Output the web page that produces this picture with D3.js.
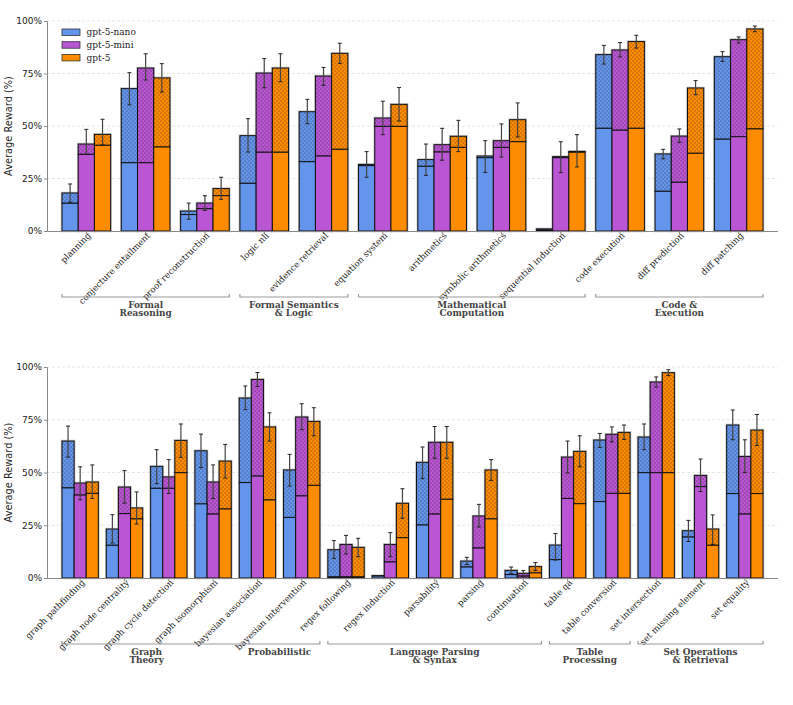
<!DOCTYPE html>
<html>
<head>
<meta charset="utf-8">
<script src="https://cdn.jsdelivr.net/npm/d3@7"></script>
<style>
  body { margin: 0; background: #fff; }
  svg { display: block; }
  .tick text { font-family: "DejaVu Sans", sans-serif; font-size: 9px; fill: #222; }
  .cat .tick text { font-family: "DejaVu Serif", serif; font-size: 8.7px; fill: #222; }
  .grp { font-family: "DejaVu Serif", serif; font-size: 8.9px; font-weight: bold; fill: #444; }
</style>
</head>
<body>
<div id="chart"></div>
<script>
const models = ['gpt-5-nano', 'gpt-5-mini', 'gpt-5'];
const colors = ['#6495ED', '#BA55D3', '#FF8C00'];

// ---- top panel ----
const topCats = ['planning', 'conjecture entailment', 'proof reconstruction', 'logic nli', 'evidence retrieval',
  'equation system', 'arithmetics', 'symbolic arithmetics', 'sequential induction',
  'code execution', 'diff prediction', 'diff patching'];
// [nano, mini, gpt5] for each category
const topTotal = [[18.1, 41.4, 46.0], [67.8, 77.6, 72.9], [9.5, 13.3, 20.2], [45.4, 75.2, 77.6], [56.8, 73.8, 84.6],
  [31.7, 53.8, 60.3], [34.0, 41.1, 45.1], [35.7, 43.0, 53.0], [1.0, 35.4, 37.9],
  [84.0, 86.2, 90.2], [36.7, 45.2, 68.1], [83.0, 91.1, 96.2]];
const topBase = [[13.2, 36.5, 40.8], [32.5, 32.5, 40.0], [7.8, 10.6, 16.8], [22.7, 37.5, 37.5], [33.0, 35.7, 38.9],
  [31.1, 49.8, 49.8], [30.8, 37.6, 39.8], [34.9, 39.8, 42.5], [0.4, 34.9, 37.5],
  [48.9, 48.0, 48.9], [18.9, 23.2, 37.0], [43.7, 44.9, 48.6]];
const topErrLo = [[13.7, 36.5, 41.0], [60.1, 71.9, 66.2], [5.6, 9.8, 15.1], [37.6, 68.2, 71.1], [51.1, 69.4, 79.8],
  [25.6, 45.9, 52.4], [26.5, 33.7, 37.8], [27.9, 35.2, 44.8], [null, 27.8, 30.5],
  [79.5, 82.9, 87.1], [34.4, 42.2, 64.9], [80.8, 89.5, 94.9]];
const topErrHi = [[22.4, 48.4, 53.2], [75.4, 84.4, 79.7], [13.3, 16.8, 25.6], [53.5, 82.1, 84.4], [62.7, 77.9, 89.4],
  [37.8, 61.8, 68.3], [41.4, 48.9, 52.7], [43.0, 51.0, 61.0], [null, 42.5, 45.9],
  [88.4, 89.7, 93.2], [38.9, 48.6, 71.6], [85.4, 92.4, 97.6]];
const topGroups = [
  { name: ['Formal', 'Reasoning'], from: 0, to: 2 },
  { name: ['Formal Semantics', '& Logic'], from: 3, to: 4 },
  { name: ['Mathematical', 'Computation'], from: 5, to: 8 },
  { name: ['Code &', 'Execution'], from: 9, to: 11 }
];
const topBrackets = [[0, 2], [3, 4], [5, 8], [9, 11]];

// ---- bottom panel ----
const botCats = ['graph pathfinding', 'graph node centrality', 'graph cycle detection', 'graph isomorphism',
  'bayesian association', 'bayesian intervention', 'regex following', 'regex induction', 'parsability',
  'parsing', 'continuation', 'table qa', 'table conversion', 'set intersection', 'set missing element', 'set equality'];
const botTotal = [[64.9, 45.0, 45.5], [23.2, 43.1, 33.2], [52.9, 47.9, 65.2], [60.3, 45.5, 55.4],
  [85.3, 94.1, 71.6], [51.2, 76.3, 74.2], [13.4, 15.9, 14.5], [1.1, 15.9, 35.4], [54.8, 64.3, 64.3],
  [8.0, 29.4, 51.2], [3.6, 2.2, 5.4], [15.6, 57.3, 60.0], [65.4, 68.1, 69.0], [66.8, 92.9, 97.3],
  [22.4, 48.6, 23.2], [72.5, 57.6, 70.1]];
const botBase = [[42.7, 39.3, 40.1], [15.5, 30.5, 28.0], [42.5, 42.5, 49.9], [35.1, 30.3, 32.7],
  [45.2, 48.3, 37.0], [28.7, 38.9, 43.9], [0.5, 0.5, 0.5], [0.9, 7.6, 19.1], [25.1, 30.3, 37.3],
  [5.2, 14.2, 28.0], [1.6, 0.9, 2.4], [8.7, 37.7, 35.2], [36.2, 40.1, 40.1], [49.9, 49.9, 49.9],
  [19.4, 43.3, 15.5], [40.0, 30.3, 40.0]];
const botErrLo = [[57.3, 37.1, 37.7], [16.6, 35.5, 25.6], [44.7, 40.1, 57.2], [52.3, 37.7, 47.4],
  [79.8, 90.8, 64.9], [43.6, 70.3, 67.4], [9.3, 11.4, 10.1], [null, 10.1, 28.3], [47.1, 56.7, 56.7],
  [6.4, 24.2, 46.3], [2.0, 0.8, 3.6], [8.5, 49.8, 52.7], [61.9, 64.5, 65.7], [60.8, 90.5, 95.9],
  [17.3, 41.0, 15.9], [65.5, 50.0, 62.8]];
const botErrHi = [[72.0, 52.7, 53.6], [30.0, 50.9, 40.8], [60.8, 56.1, 73.0], [68.2, 53.6, 63.3],
  [91.0, 97.4, 78.3], [58.6, 82.6, 80.7], [17.7, 20.2, 18.8], [null, 21.5, 42.3], [62.1, 71.8, 71.8],
  [9.8, 34.9, 56.1], [5.2, 3.5, 7.3], [21.1, 64.9, 67.4], [68.5, 71.6, 72.5], [73.0, 95.3, 98.7],
  [27.3, 56.4, 29.9], [79.6, 65.5, 77.5]];
const botGroups = [
  { name: ['Graph', 'Theory'], from: 0, to: 3 },
  { name: ['Probabilistic'], from: 4, to: 5 },
  { name: ['Language Parsing', '& Syntax'], from: 6, to: 10 },
  { name: ['Table', 'Processing'], from: 11, to: 12 },
  { name: ['Set Operations', '& Retrieval'], from: 13, to: 15 }
];
const botBrackets = [[0, 5], [6, 10], [11, 12], [13, 15]];

const width = 793, height = 705;
const svg = d3.select('#chart').append('svg')
  .attr('width', width)
  .attr('height', height);

// dotted hatch patterns, one per model colour
const defs = svg.append('defs');
colors.forEach(function(c, i) {
  const p = defs.append('pattern')
    .attr('id', 'dots' + i)
    .attr('patternUnits', 'userSpaceOnUse')
    .attr('width', 4).attr('height', 4);
  p.append('rect').attr('width', 4).attr('height', 4).attr('fill', c);
  p.append('circle').attr('cx', 1).attr('cy', 1).attr('r', 0.5).attr('fill', '#222');
  p.append('circle').attr('cx', 3).attr('cy', 3).attr('r', 0.5).attr('fill', '#222');
});

function drawPanel(opts) {
  const { cats, total, base, errLo, errHi, groups, brackets, y0, y1, legend } = opts;
  const left = 47, right = 778;

  const x = d3.scaleBand().domain(cats).range([left + 15, right - 15]).paddingInner(0.18).paddingOuter(0);
  const xm = d3.scaleBand().domain(d3.range(3)).range([0, x.bandwidth()]);
  const y = d3.scaleLinear().domain([0, 1]).range([y0, y1]);

  const g = svg.append('g');

  // gridlines
  g.append('g').selectAll('line').data([0.25, 0.5, 0.75, 1]).join('line')
    .attr('x1', left).attr('x2', right)
    .attr('y1', d => y(d)).attr('y2', d => y(d))
    .attr('stroke', '#ddd').attr('stroke-width', 0.7).attr('stroke-dasharray', '3,2');

  // bars
  const bars = [];
  cats.forEach(function(c, ci) {
    for (let m = 0; m < 3; m++) {
      bars.push({ c: c, m: m, total: total[ci][m] / 100, base: base[ci][m] / 100,
        lo: errLo[ci][m], hi: errHi[ci][m] });
    }
  });
  const bx = d => x(d.c) + xm(d.m);
  const bw = xm.bandwidth();

  // soft grey halo round each bar
  g.append('g').selectAll('rect').data(bars).join('rect')
    .attr('x', bx).attr('width', bw)
    .attr('y', d => y(d.total)).attr('height', d => y0 - y(d.total))
    .attr('fill', 'none').attr('stroke', '#999').attr('stroke-opacity', 0.6).attr('stroke-width', 2.5);

  // dotted upper part
  g.append('g').selectAll('rect').data(bars.filter(d => d.total > d.base)).join('rect')
    .attr('x', bx).attr('width', bw)
    .attr('y', d => y(d.total)).attr('height', d => y(d.base) - y(d.total))
    .attr('fill', d => 'url(#dots' + d.m + ')')
    .attr('stroke', '#111').attr('stroke-width', 1);

  // solid lower part
  g.append('g').selectAll('rect').data(bars).join('rect')
    .attr('x', bx).attr('width', bw)
    .attr('y', d => y(d.base)).attr('height', d => y0 - y(d.base))
    .attr('fill', d => colors[d.m])
    .attr('stroke', '#111').attr('stroke-width', 1);

  // error bars
  const eb = g.append('g').selectAll('g').data(bars.filter(d => d.lo != null)).join('g')
    .attr('transform', d => 'translate(' + (bx(d) + bw / 2) + ',0)');
  eb.append('line')
    .attr('y1', d => y(d.lo / 100)).attr('y2', d => y(d.hi / 100))
    .attr('stroke', '#444').attr('stroke-width', 1.2);
  eb.selectAll('line.cap').data(d => [d.lo, d.hi]).join('line')
    .attr('class', 'cap')
    .attr('x1', -2).attr('x2', 2)
    .attr('y1', v => y(v / 100)).attr('y2', v => y(v / 100))
    .attr('stroke', '#222').attr('stroke-width', 1);

  // y axis
  const yAxis = g.append('g')
    .attr('transform', 'translate(' + left + ',0)')
    .call(d3.axisLeft(y).tickValues([0, 0.25, 0.5, 0.75, 1]).tickFormat(d3.format('.0%')).tickSize(3).tickPadding(2));
  yAxis.select('.domain').attr('stroke', '#888');
  yAxis.selectAll('.tick line').attr('stroke', '#888');

  g.append('text')
    .attr('transform', 'translate(12,' + ((y0 + y1) / 2) + ') rotate(-90)')
    .attr('text-anchor', 'middle')
    .style('font-family', '"DejaVu Sans", sans-serif')
    .style('font-size', '9.8px')
    .attr('fill', '#222')
    .text('Average Reward (%)');

  // x axis
  const xAxis = g.append('g')
    .attr('class', 'cat')
    .attr('transform', 'translate(0,' + y0 + ')')
    .call(d3.axisBottom(x).tickSize(3).tickSizeOuter(0));
  xAxis.select('.domain').attr('d', 'M' + left + ',0.5H' + right).attr('stroke', '#888');
  xAxis.selectAll('.tick line').attr('stroke', '#888');
  xAxis.selectAll('.tick text')
    .attr('text-anchor', 'end')
    .attr('dy', '0.35em')
    .attr('transform', 'translate(3,3) rotate(-45)')
    .attr('x', 0).attr('y', 0);

  // group brackets
  const by = y0 + 66;
  brackets.forEach(function(b) {
    const xa = x(cats[b[0]]), xb = x(cats[b[1]]) + x.bandwidth();
    g.append('path')
      .attr('d', 'M' + xa + ',' + (by - 3) + 'V' + by + 'H' + xb + 'V' + (by - 3))
      .attr('fill', 'none').attr('stroke', '#999').attr('stroke-width', 1.2);
  });
  groups.forEach(function(gr) {
    const cx = (x(cats[gr.from]) + x(cats[gr.to]) + x.bandwidth()) / 2;
    const t = g.append('text').attr('class', 'grp').attr('text-anchor', 'middle')
      .attr('x', cx).attr('y', by + 10.5);
    gr.name.forEach(function(line, i) {
      t.append('tspan').attr('x', cx).attr('dy', i === 0 ? 0 : '0.9em').text(line);
    });
  });

  if (legend) {
    const lg = g.append('g').attr('transform', 'translate(62,' + (y1 + 8) + ')');
    models.forEach(function(m, i) {
      const r = lg.append('g').attr('transform', 'translate(0,' + (i * 12.7) + ')');
      r.append('rect').attr('x', 0).attr('y', 0).attr('width', 18).attr('height', 6.5)
        .attr('fill', colors[i]).attr('stroke', '#333').attr('stroke-width', 0.8);
      r.append('text').attr('x', 24.5).attr('y', 3.3).attr('dy', '0.35em')
        .style('font-family', '"DejaVu Serif", serif').style('font-size', '9px')
        .attr('fill', '#222').text(m);
    });
  }
}

drawPanel({ cats: topCats, total: topTotal, base: topBase, errLo: topErrLo, errHi: topErrHi,
  groups: topGroups, brackets: topBrackets, y0: 231, y1: 21, legend: true });
drawPanel({ cats: botCats, total: botTotal, base: botBase, errLo: botErrLo, errHi: botErrHi,
  groups: botGroups, brackets: botBrackets, y0: 578, y1: 367, legend: false });
</script>
</body>
</html>
